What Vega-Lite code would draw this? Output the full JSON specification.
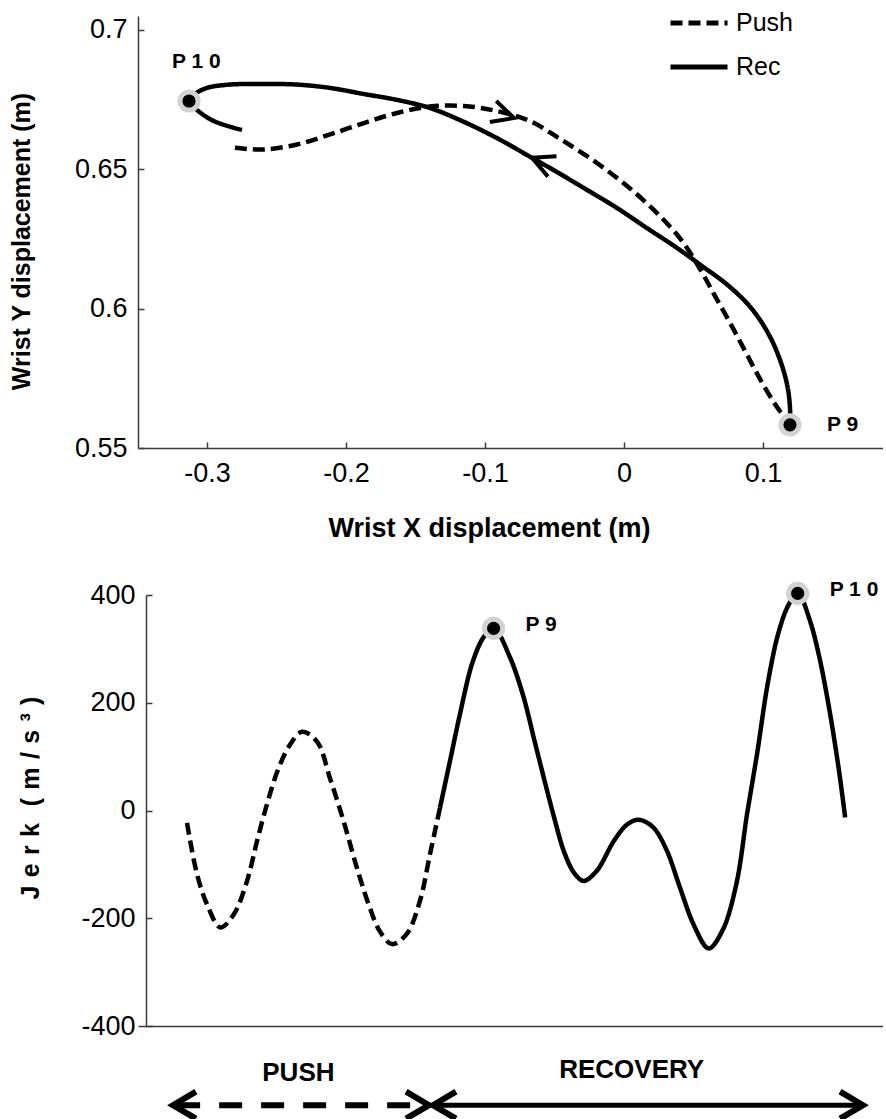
{
  "$schema": "https://vega.github.io/schema/vega-lite/v6.json",
  "autosize": {"type": "pad"},
  "padding": {"left": 8, "top": -8, "right": 0, "bottom": 0},
  "background": "white",
  "spacing": 147,
  "bounds": "flush",
  "config": {
    "view": {"stroke": null},
    "font": "Liberation Sans",
    "axis": {
      "grid": false,
      "labelFont": "Liberation Sans",
      "labelFontSize": 27,
      "labelColor": "black",
      "labelFlush": false,
      "titleFont": "Liberation Sans",
      "titleFontWeight": "bold",
      "titleColor": "black",
      "domainColor": "#3a3a3a",
      "domainWidth": 1.5,
      "tickColor": "#3a3a3a",
      "tickWidth": 1.5,
      "tickSize": -6
    }
  },
  "resolve": {"scale": {"strokeDash": "independent"}, "legend": {"strokeDash": "independent"}},
  "datasets": {
    "traj": [
      {"phase": "Push", "i": 0, "x": -0.2799, "y": 0.6577},
      {"phase": "Push", "i": 1, "x": -0.2590, "y": 0.6571},
      {"phase": "Push", "i": 2, "x": -0.2353, "y": 0.6589},
      {"phase": "Push", "i": 3, "x": -0.2115, "y": 0.6625},
      {"phase": "Push", "i": 4, "x": -0.1871, "y": 0.6666},
      {"phase": "Push", "i": 5, "x": -0.1633, "y": 0.6702},
      {"phase": "Push", "i": 6, "x": -0.1396, "y": 0.6725},
      {"phase": "Push", "i": 7, "x": -0.1151, "y": 0.6727},
      {"phase": "Push", "i": 8, "x": -0.0914, "y": 0.6709},
      {"phase": "Push", "i": 9, "x": -0.0676, "y": 0.6673},
      {"phase": "Push", "i": 10, "x": -0.0460, "y": 0.6609},
      {"phase": "Push", "i": 11, "x": -0.0216, "y": 0.6530},
      {"phase": "Push", "i": 12, "x": 0.0022, "y": 0.6440},
      {"phase": "Push", "i": 13, "x": 0.0237, "y": 0.6343},
      {"phase": "Push", "i": 14, "x": 0.0417, "y": 0.6243},
      {"phase": "Push", "i": 15, "x": 0.0547, "y": 0.6142},
      {"phase": "Push", "i": 16, "x": 0.0655, "y": 0.6045},
      {"phase": "Push", "i": 17, "x": 0.0763, "y": 0.5949},
      {"phase": "Push", "i": 18, "x": 0.0871, "y": 0.5848},
      {"phase": "Push", "i": 19, "x": 0.0978, "y": 0.5748},
      {"phase": "Push", "i": 20, "x": 0.1086, "y": 0.5658},
      {"phase": "Push", "i": 21, "x": 0.1173, "y": 0.5597},
      {"phase": "Rec", "i": 0, "x": 0.1194, "y": 0.5583},
      {"phase": "Rec", "i": 1, "x": 0.1194, "y": 0.5644},
      {"phase": "Rec", "i": 2, "x": 0.1175, "y": 0.5723},
      {"phase": "Rec", "i": 3, "x": 0.1125, "y": 0.5812},
      {"phase": "Rec", "i": 4, "x": 0.1040, "y": 0.5909},
      {"phase": "Rec", "i": 5, "x": 0.0910, "y": 0.6005},
      {"phase": "Rec", "i": 6, "x": 0.0745, "y": 0.6085},
      {"phase": "Rec", "i": 7, "x": 0.0561, "y": 0.6153},
      {"phase": "Rec", "i": 8, "x": 0.0381, "y": 0.6218},
      {"phase": "Rec", "i": 9, "x": 0.0165, "y": 0.6289},
      {"phase": "Rec", "i": 10, "x": -0.0050, "y": 0.6361},
      {"phase": "Rec", "i": 11, "x": -0.0266, "y": 0.6426},
      {"phase": "Rec", "i": 12, "x": -0.0482, "y": 0.6490},
      {"phase": "Rec", "i": 13, "x": -0.0662, "y": 0.6541},
      {"phase": "Rec", "i": 14, "x": -0.0914, "y": 0.6612},
      {"phase": "Rec", "i": 15, "x": -0.1151, "y": 0.6670},
      {"phase": "Rec", "i": 16, "x": -0.1396, "y": 0.6720},
      {"phase": "Rec", "i": 17, "x": -0.1633, "y": 0.6749},
      {"phase": "Rec", "i": 18, "x": -0.1871, "y": 0.6770},
      {"phase": "Rec", "i": 19, "x": -0.2115, "y": 0.6792},
      {"phase": "Rec", "i": 20, "x": -0.2353, "y": 0.6804},
      {"phase": "Rec", "i": 21, "x": -0.2590, "y": 0.6806},
      {"phase": "Rec", "i": 22, "x": -0.2835, "y": 0.6804},
      {"phase": "Rec", "i": 23, "x": -0.3000, "y": 0.6792},
      {"phase": "Rec", "i": 24, "x": -0.3086, "y": 0.6770},
      {"phase": "Rec", "i": 25, "x": -0.3129, "y": 0.6745},
      {"phase": "Rec", "i": 26, "x": -0.3072, "y": 0.6713},
      {"phase": "Rec", "i": 27, "x": -0.2950, "y": 0.6673},
      {"phase": "Rec", "i": 28, "x": -0.2748, "y": 0.6641}
    ],
    "trajArrows": [
      {"phase": "Push", "x": -0.0791, "y": 0.6684},
      {"phase": "Rec", "x": -0.0662, "y": 0.6541}
    ],
    "trajEvents": [
      {"label": "P 1 0", "x": -0.3129, "y": 0.6745},
      {"label": "P 9", "x": 0.1194, "y": 0.5583}
    ],
    "jerk": [
      {"phase": "Push", "i": 0, "t": 0, "jerk": -23},
      {"phase": "Push", "i": 1, "t": 1.52, "jerk": -118},
      {"phase": "Push", "i": 2, "t": 3.04, "jerk": -174},
      {"phase": "Push", "i": 3, "t": 5.06, "jerk": -217},
      {"phase": "Push", "i": 4, "t": 7.1, "jerk": -193},
      {"phase": "Push", "i": 5, "t": 9.12, "jerk": -131},
      {"phase": "Push", "i": 6, "t": 10.64, "jerk": -57},
      {"phase": "Push", "i": 7, "t": 12.16, "jerk": 12},
      {"phase": "Push", "i": 8, "t": 13.93, "jerk": 79},
      {"phase": "Push", "i": 9, "t": 15.7, "jerk": 123},
      {"phase": "Push", "i": 10, "t": 17.48, "jerk": 146},
      {"phase": "Push", "i": 11, "t": 19.76, "jerk": 128},
      {"phase": "Push", "i": 12, "t": 21.73, "jerk": 60},
      {"phase": "Push", "i": 13, "t": 23.8, "jerk": -20},
      {"phase": "Push", "i": 14, "t": 25.84, "jerk": -107},
      {"phase": "Push", "i": 15, "t": 27.8, "jerk": -181},
      {"phase": "Push", "i": 16, "t": 29.3, "jerk": -224},
      {"phase": "Push", "i": 17, "t": 31.16, "jerk": -248},
      {"phase": "Push", "i": 18, "t": 33.4, "jerk": -229},
      {"phase": "Push", "i": 19, "t": 35.4, "jerk": -168},
      {"phase": "Push", "i": 20, "t": 36.93, "jerk": -81},
      {"phase": "Push", "i": 21, "t": 38.45, "jerk": 5},
      {"phase": "Rec", "i": 0, "t": 38.45, "jerk": 5},
      {"phase": "Rec", "i": 1, "t": 39.97, "jerk": 92},
      {"phase": "Rec", "i": 2, "t": 41.49, "jerk": 179},
      {"phase": "Rec", "i": 3, "t": 43.31, "jerk": 272},
      {"phase": "Rec", "i": 4, "t": 44.98, "jerk": 320},
      {"phase": "Rec", "i": 5, "t": 46.6, "jerk": 338},
      {"phase": "Rec", "i": 6, "t": 49.1, "jerk": 284},
      {"phase": "Rec", "i": 7, "t": 51.17, "jerk": 210},
      {"phase": "Rec", "i": 8, "t": 52.7, "jerk": 135},
      {"phase": "Rec", "i": 9, "t": 54.2, "jerk": 62},
      {"phase": "Rec", "i": 10, "t": 55.73, "jerk": -10},
      {"phase": "Rec", "i": 11, "t": 57.25, "jerk": -75},
      {"phase": "Rec", "i": 12, "t": 58.77, "jerk": -115},
      {"phase": "Rec", "i": 13, "t": 60.29, "jerk": -131},
      {"phase": "Rec", "i": 14, "t": 62.3, "jerk": -112},
      {"phase": "Rec", "i": 15, "t": 64.85, "jerk": -57},
      {"phase": "Rec", "i": 16, "t": 66.87, "jerk": -26},
      {"phase": "Rec", "i": 17, "t": 68.65, "jerk": -17},
      {"phase": "Rec", "i": 18, "t": 70.93, "jerk": -32},
      {"phase": "Rec", "i": 19, "t": 72.95, "jerk": -75},
      {"phase": "Rec", "i": 20, "t": 74.92, "jerk": -143},
      {"phase": "Rec", "i": 21, "t": 77.0, "jerk": -212},
      {"phase": "Rec", "i": 22, "t": 79.29, "jerk": -256},
      {"phase": "Rec", "i": 23, "t": 81.57, "jerk": -218},
      {"phase": "Rec", "i": 24, "t": 83.59, "jerk": -131},
      {"phase": "Rec", "i": 25, "t": 85.11, "jerk": -7},
      {"phase": "Rec", "i": 26, "t": 86.63, "jerk": 104},
      {"phase": "Rec", "i": 27, "t": 88.15, "jerk": 228},
      {"phase": "Rec", "i": 28, "t": 89.67, "jerk": 320},
      {"phase": "Rec", "i": 29, "t": 91.19, "jerk": 376},
      {"phase": "Rec", "i": 30, "t": 92.81, "jerk": 403},
      {"phase": "Rec", "i": 31, "t": 94.72, "jerk": 351},
      {"phase": "Rec", "i": 32, "t": 96.24, "jerk": 277},
      {"phase": "Rec", "i": 33, "t": 97.76, "jerk": 178},
      {"phase": "Rec", "i": 34, "t": 99.03, "jerk": 79},
      {"phase": "Rec", "i": 35, "t": 100.03, "jerk": -13}
    ],
    "jerkEvents": [
      {"label": "P 9", "t": 46.6, "jerk": 338},
      {"label": "P 1 0", "t": 92.81, "jerk": 403}
    ],
    "phaseBars": [
      {"phase": "PUSH", "t": -1.5, "t2": 36.2, "jerk": -547},
      {"phase": "RECOVERY", "t": 38.0, "t2": 102.1, "jerk": -547}
    ],
    "phaseHeads": [
      {"phase": "PUSH", "end": "start", "t": -2.13, "jerk": -547},
      {"phase": "PUSH", "end": "finish", "t": 36.78, "jerk": -547},
      {"phase": "RECOVERY", "end": "start", "t": 37.39, "jerk": -547},
      {"phase": "RECOVERY", "end": "finish", "t": 102.74, "jerk": -547}
    ],
    "phaseLabels": [
      {"label": "PUSH", "t": 16.93, "jerk": -502},
      {"label": "RECOVERY", "t": 67.58, "jerk": -497}
    ]
  },
  "vconcat": [
    {
      "width": 745,
      "height": 432,
      "encoding": {
        "x": {
          "field": "x", "type": "quantitative",
          "scale": {"domain": [-0.3496, 0.1863], "nice": false, "zero": false},
          "axis": {
            "title": "Wrist X displacement (m)",
            "values": [-0.3, -0.2, -0.1, 0, 0.1],
            "labelExpr": "replace(format(datum.value, '~g'), '\u2212', '-')",
            "labelPadding": 18,
            "titleFontSize": 27,
            "titleX": 351, "titleY": 88, "titleBaseline": "alphabetic", "titleAlign": "center"
          }
        },
        "y": {
          "field": "y", "type": "quantitative",
          "scale": {"domain": [0.55, 0.705], "nice": false, "zero": false},
          "axis": {
            "title": "Wrist Y displacement (m)",
            "values": [0.55, 0.6, 0.65, 0.7],
            "labelExpr": "replace(format(datum.value, '~g'), '\u2212', '-')",
            "labelPadding": 17,
            "titleFontSize": 25,
            "titleAngle": -90,
            "titleX": -109, "titleY": 225, "titleBaseline": "alphabetic", "titleAlign": "center"
          }
        }
      },
      "layer": [
        {
          "data": {"name": "traj"},
          "mark": {"type": "line", "interpolate": "catmull-rom", "strokeWidth": 4.5, "color": "black", "strokeCap": "butt"},
          "encoding": {
            "order": {"field": "i", "type": "quantitative"},
            "detail": {"field": "phase", "type": "nominal"},
            "strokeDash": {
              "field": "phase", "type": "nominal",
              "scale": {"domain": ["Push", "Rec"], "range": [[12, 6], [1, 0]]},
              "legend": {
                "title": null,
                "orient": "none",
                "legendX": 530,
                "legendY": -24,
                "padding": 0,
                "symbolType": "stroke",
                "symbolSize": 3249,
                "symbolStrokeWidth": 5,
                "symbolStrokeColor": "black",
                "labelFont": "Liberation Sans",
                "labelFontSize": 25,
                "labelColor": "black",
                "labelOffset": 6,
                "rowPadding": -15
              }
            }
          }
        },
        {
          "data": {"name": "trajArrows"},
          "transform": [{"filter": "datum.phase === 'Push'"}],
          "mark": {"type": "point", "shape": "M-2,-1L0,0L-2,1", "size": 484, "filled": false, "stroke": "black", "strokeWidth": 4, "angle": 17, "opacity": 1}
        },
        {
          "data": {"name": "trajArrows"},
          "transform": [{"filter": "datum.phase === 'Rec'"}],
          "mark": {"type": "point", "shape": "M-2,-1L0,0L-2,1", "size": 484, "filled": false, "stroke": "black", "strokeWidth": 4, "angle": 203, "opacity": 1}
        },
        {
          "data": {"name": "trajEvents"},
          "mark": {"type": "point", "shape": "circle", "filled": true, "fill": "black", "stroke": "#d2d2d2", "strokeWidth": 5, "size": 330, "opacity": 1}
        },
        {
          "data": {"name": "trajEvents"},
          "transform": [{"filter": "datum.label === 'P 1 0'"}],
          "mark": {"type": "text", "align": "left", "baseline": "alphabetic", "dx": -17, "dy": -33, "fontSize": 21, "fontWeight": "bold", "font": "Liberation Sans", "color": "black"},
          "encoding": {"text": {"field": "label"}}
        },
        {
          "data": {"name": "trajEvents"},
          "transform": [{"filter": "datum.label === 'P 9'"}],
          "mark": {"type": "text", "align": "left", "baseline": "alphabetic", "dx": 37, "dy": 6, "fontSize": 21, "fontWeight": "bold", "font": "Liberation Sans", "color": "black"},
          "encoding": {"text": {"field": "label"}}
        }
      ]
    },
    {
      "width": 745,
      "height": 431,
      "encoding": {
        "x": {
          "field": "t", "type": "quantitative",
          "scale": {"domain": [-7.447, 105.78], "nice": false, "zero": false},
          "axis": {"title": null, "labels": false, "ticks": false, "domain": true}
        },
        "y": {
          "field": "jerk", "type": "quantitative",
          "scale": {"domain": [-400, 400], "nice": false, "zero": false},
          "axis": {
            "title": "J\u2004e\u2004r\u2004k\u2004\u2004(\u2004m\u2004/\u2004s\u2004³\u2004)",
            "values": [-400, -200, 0, 200, 400],
            "labelExpr": "replace(format(datum.value, '~g'), '\u2212', '-')",
            "offset": -8,
            "labelPadding": 17,
            "titleFontSize": 25,
            "titleAngle": -90,
            "titleX": -108, "titleY": 202.5, "titleBaseline": "alphabetic", "titleAlign": "center"
          }
        }
      },
      "layer": [
        {
          "data": {"name": "jerk"},
          "transform": [{"filter": "datum.phase === 'Push'"}],
          "mark": {"type": "line", "interpolate": "catmull-rom", "strokeWidth": 4.5, "color": "black", "strokeDash": [12, 6], "strokeCap": "butt"},
          "encoding": {"order": {"field": "i", "type": "quantitative"}}
        },
        {
          "data": {"name": "jerk"},
          "transform": [{"filter": "datum.phase === 'Rec'"}],
          "mark": {"type": "line", "interpolate": "catmull-rom", "strokeWidth": 4.5, "color": "black"},
          "encoding": {"order": {"field": "i", "type": "quantitative"}}
        },
        {
          "data": {"name": "jerkEvents"},
          "mark": {"type": "point", "shape": "circle", "filled": true, "fill": "black", "stroke": "#d2d2d2", "strokeWidth": 5, "size": 330, "opacity": 1}
        },
        {
          "data": {"name": "jerkEvents"},
          "mark": {"type": "text", "align": "left", "baseline": "alphabetic", "dx": 32, "dy": 3, "fontSize": 21, "fontWeight": "bold", "font": "Liberation Sans", "color": "black"},
          "encoding": {"text": {"field": "label"}}
        },
        {
          "data": {"name": "phaseBars"},
          "transform": [{"filter": "datum.phase === 'PUSH'"}],
          "mark": {"type": "rule", "color": "black", "strokeWidth": 6, "strokeDash": [23, 19]},
          "encoding": {"x2": {"field": "t2"}}
        },
        {
          "data": {"name": "phaseBars"},
          "transform": [{"filter": "datum.phase === 'RECOVERY'"}],
          "mark": {"type": "rule", "color": "black", "strokeWidth": 5},
          "encoding": {"x2": {"field": "t2"}}
        },
        {
          "data": {"name": "phaseHeads"},
          "transform": [{"filter": "datum.end === 'finish'"}],
          "mark": {"type": "point", "shape": "M-1.7,-1L0,0L-1.7,1", "size": 729, "filled": false, "stroke": "black", "strokeWidth": 6, "angle": 0, "opacity": 1}
        },
        {
          "data": {"name": "phaseHeads"},
          "transform": [{"filter": "datum.end === 'start'"}],
          "mark": {"type": "point", "shape": "M-1.7,-1L0,0L-1.7,1", "size": 729, "filled": false, "stroke": "black", "strokeWidth": 6, "angle": 180, "opacity": 1}
        },
        {
          "data": {"name": "phaseLabels"},
          "mark": {"type": "text", "align": "center", "baseline": "alphabetic", "fontSize": 26, "fontWeight": "bold", "font": "Liberation Sans", "color": "black"},
          "encoding": {"text": {"field": "label"}}
        }
      ]
    }
  ]
}
